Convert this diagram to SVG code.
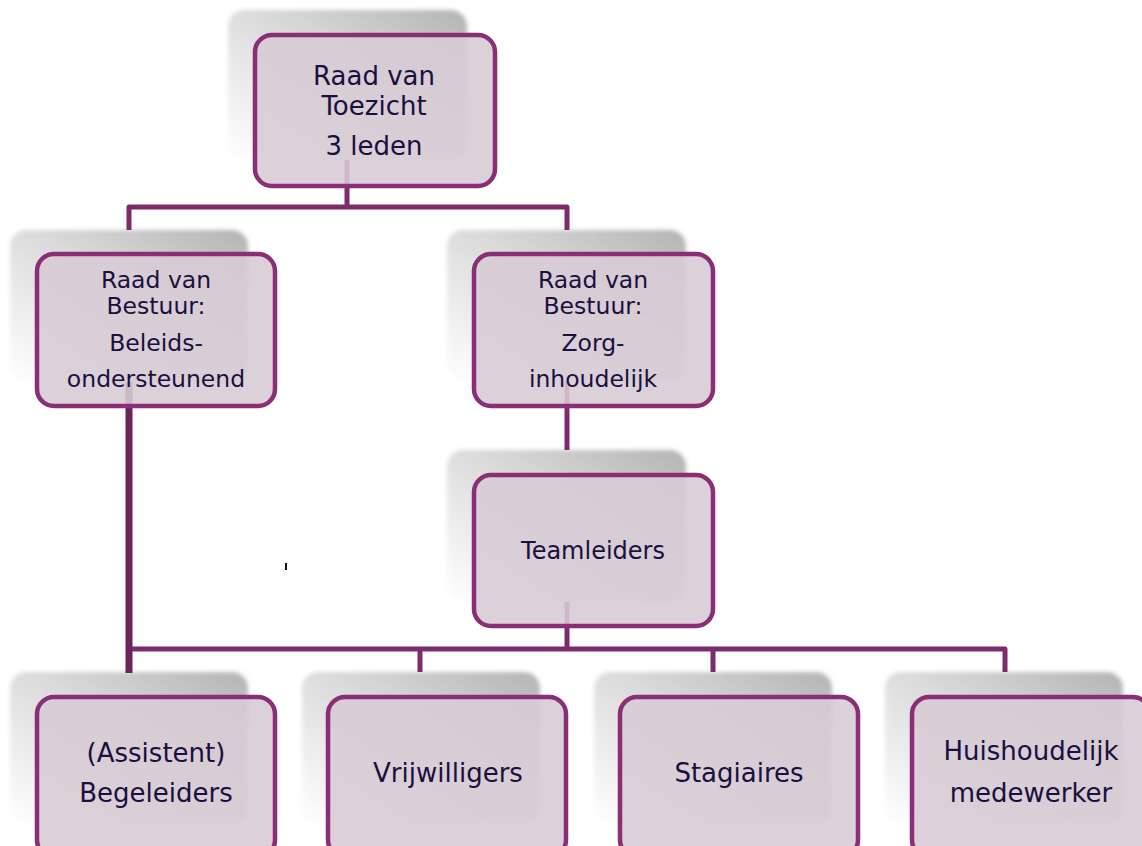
<svg xmlns="http://www.w3.org/2000/svg" width="1142" height="846" viewBox="0 0 1142 846">
<defs>
<linearGradient id="sg" x1="1" y1="0" x2="0" y2="1">
<stop offset="0" stop-color="#b4b4b4"/>
<stop offset="0.45" stop-color="#dadada"/>
<stop offset="1" stop-color="#ffffff"/>
</linearGradient>
<filter id="blur" x="-10%" y="-10%" width="120%" height="120%">
<feGaussianBlur stdDeviation="2"/>
</filter>
</defs>
<style>
.shadow{fill:url(#sg);filter:url(#blur)}
.box{fill:#d8cad4;fill-opacity:0.89;stroke:#8a2f75;stroke-width:4.5}
.conn{fill:none;stroke:#7d2c6b;stroke-width:5;stroke-linejoin:round}
.thick{fill:none;stroke:#6a2458;stroke-width:7}
text{font-family:"DejaVu Sans",Verdana,sans-serif;fill:#1a1040;text-anchor:middle}
.t26{font-size:26px}
.t23{font-size:23.5px}
.t24{font-size:24px}
</style>
<rect width="1142" height="846" fill="#ffffff"/>
<g id="shadows">
<rect class="shadow" x="228" y="10" width="239" height="150" rx="16"/>
<rect class="shadow" x="10" y="230" width="238" height="152" rx="16"/>
<rect class="shadow" x="447" y="230" width="239" height="152" rx="16"/>
<rect class="shadow" x="447" y="450" width="239" height="152" rx="16"/>
<rect class="shadow" x="10" y="672" width="238" height="152" rx="16"/>
<rect class="shadow" x="302" y="672" width="238" height="152" rx="16"/>
<rect class="shadow" x="594" y="672" width="238" height="152" rx="16"/>
<rect class="shadow" x="885" y="672" width="238" height="152" rx="16"/>
</g>
<g id="connectors">
<path class="conn" d="M347,160 V207 M129,230 V207 H567 V230"/>
<path class="conn" d="M567,382 V450"/>
<path class="conn" d="M567,602 V649"/>
<path class="conn" d="M129,649 H1005 V672 M420,649 V672 M713,649 V672"/>
<path class="thick" d="M129,382 V673"/>
<rect x="285" y="563" width="2" height="7" fill="#111111"/>
</g>
<g id="n-rvt">
<rect class="box" x="255" y="35" width="240" height="151" rx="17"/>
<text class="t26" x="374" y="85">Raad van</text>
<text class="t26" x="374" y="115">Toezicht</text>
<text class="t26" x="374" y="155">3 leden</text>
</g>
<g id="n-rvb-beleid">
<rect class="box" x="37" y="254" width="238" height="152" rx="17"/>
<text class="t23" x="156" y="288">Raad van</text>
<text class="t23" x="156" y="314">Bestuur:</text>
<text class="t23" x="156" y="351">Beleids-</text>
<text class="t23" x="156" y="387">ondersteunend</text>
</g>
<g id="n-rvb-zorg">
<rect class="box" x="474" y="254" width="239" height="152" rx="17"/>
<text class="t23" x="593" y="288">Raad van</text>
<text class="t23" x="593" y="314">Bestuur:</text>
<text class="t23" x="593" y="351">Zorg-</text>
<text class="t23" x="593" y="387">inhoudelijk</text>
</g>
<g id="n-teamleiders">
<rect class="box" x="474" y="475" width="239" height="151" rx="17"/>
<text class="t24" x="593" y="559">Teamleiders</text>
</g>
<g id="n-begeleiders">
<rect class="box" x="37" y="697" width="238" height="160" rx="17"/>
<text class="t26" x="156" y="762">(Assistent)</text>
<text class="t26" x="156" y="802">Begeleiders</text>
</g>
<g id="n-vrijwilligers">
<rect class="box" x="328" y="697" width="238" height="160" rx="17"/>
<text class="t26" x="448" y="782">Vrijwilligers</text>
</g>
<g id="n-stagiaires">
<rect class="box" x="620" y="697" width="238" height="160" rx="17"/>
<text class="t26" x="739" y="782">Stagiaires</text>
</g>
<g id="n-huishoudelijk">
<rect class="box" x="912" y="697" width="238" height="160" rx="17"/>
<text class="t26" x="1031" y="760">Huishoudelijk</text>
<text class="t26" x="1031" y="802">medewerker</text>
</g>
</svg>
